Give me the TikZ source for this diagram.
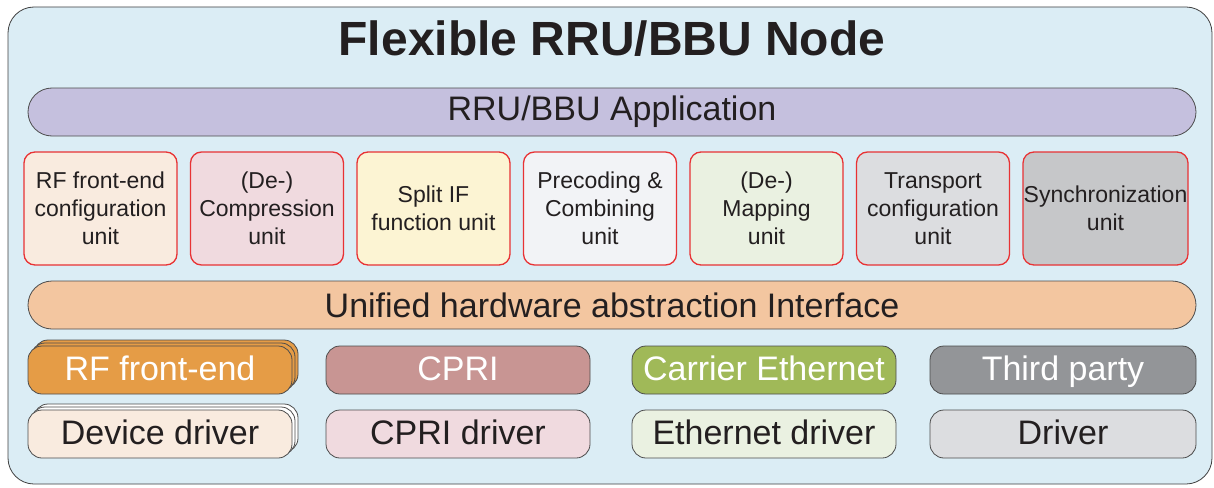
\documentclass[tikz,border=0pt]{standalone}
\usepackage{fontspec}
\setmainfont{Liberation Sans}
\usepackage{tikz}
\usetikzlibrary{positioning}

\definecolor{bgblue}{RGB}{219,237,245}
\definecolor{appviolet}{RGB}{197,192,222}
\definecolor{hwpeach}{RGB}{243,198,160}
\definecolor{unitred}{RGB}{232,50,52}
\definecolor{darktext}{RGB}{35,31,32}
\definecolor{peach}{RGB}{249,235,223}
\definecolor{rose}{RGB}{240,218,223}
\definecolor{cream}{RGB}{252,244,211}
\definecolor{pale}{RGB}{242,243,246}
\definecolor{mint}{RGB}{234,241,225}
\definecolor{lgray}{RGB}{220,221,224}
\definecolor{mgray}{RGB}{198,199,201}
\definecolor{rforange}{RGB}{229,156,70}
\definecolor{cprirose}{RGB}{200,149,147}
\definecolor{ethgreen}{RGB}{160,185,88}
\definecolor{thirdgray}{RGB}{147,149,152}

\begin{document}
\begin{tikzpicture}[x=1pt,y=-1pt, node distance=12.2pt, text=darktext]

    \tikzstyle{unit}=[draw=unitred, line width=1.3pt, rounded corners=11pt, minimum width=153pt, minimum height=113pt, align=center, inner sep=0pt, font=\fontsize{23}{28}\selectfont]
    \tikzstyle{bar}=[draw=black!70, line width=0.8pt, rounded corners=24pt, minimum width=1168pt, minimum height=48pt, font=\fontsize{34}{34}\selectfont]
    \tikzstyle{hw}=[draw=black!70, line width=0.8pt, rounded corners=14pt, minimum width=264pt, minimum height=48pt, text height=26pt, text depth=6pt, font=\fontsize{34}{34}\selectfont]

    \useasboundingbox (0,0) rectangle (1214,487);

    \node[draw=black!75, line width=0.8pt, fill=bgblue, rounded corners=26pt, minimum width=1204pt, minimum height=477pt] (frame) at (610,245.5) {};
    \node[font=\fontsize{48}{48}\selectfont\bfseries] (title) at (612,39) {Flexible RRU/BBU Node};

    \node[bar, fill=appviolet] (app) at (612,112) {RRU/BBU Application};

    % function units
    \node[unit, fill=peach] (rfcfg) at (100.5,208.5) {RF front-end\\configuration\\unit};
    \node[unit, fill=rose,  right=of rfcfg] (comp) {(De-)\\Compression\\unit};
    \node[unit, fill=cream, right=of comp] (split) {Split IF\\function unit};
    \node[unit, fill=pale,  right=of split] (prec) {Precoding \&\\Combining\\unit};
    \node[unit, fill=mint,  right=of prec] (map) {(De-)\\Mapping\\unit};
    \node[unit, fill=lgray, right=of map] (trans) {Transport\\configuration\\unit};
    \node[unit, fill=mgray, minimum width=165pt, right=of trans] (sync) {Synchronization\\unit};

    \node[bar, fill=hwpeach] (hal) at (612,305) {Unified hardware abstraction Interface};

    % hardware and drivers
    \node[hw, fill=rforange] (rfb2) at (166,364) {};
    \node[hw, fill=rforange] (rfb1) at (163,367) {};
    \node[hw, fill=rforange, text=white] (rf) at (160,370) {RF front-end};
    \node[hw, fill=cprirose, text=white] (cpri) at (458,370) {CPRI};
    \node[hw, fill=ethgreen, text=white] (eth) at (764,370) {Carrier Ethernet};
    \node[hw, fill=thirdgray, text=white, minimum width=266pt] (third) at (1063,370) {Third party};

    \node[hw, fill=white] (devb2) at (166,428) {};
    \node[hw, fill=white] (devb1) at (163,431) {};
    \node[hw, fill=peach] (dev) at (160,434) {Device driver};
    \node[hw, fill=rose] (cprid) at (458,434) {CPRI driver};
    \node[hw, fill=mint] (ethd) at (764,434) {Ethernet driver};
    \node[hw, fill=lgray, minimum width=266pt] (drv) at (1063,434) {Driver};

\end{tikzpicture}
\end{document}
